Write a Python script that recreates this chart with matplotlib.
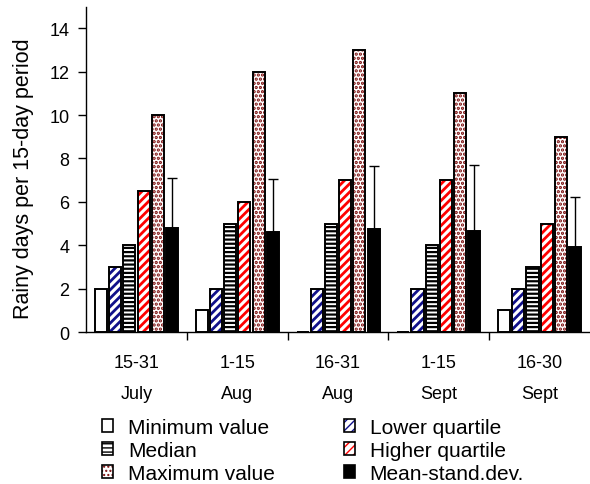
import numpy as np
import matplotlib
matplotlib.use('Agg')
import matplotlib.pyplot as plt
from matplotlib.patches import Patch
from matplotlib.legend_handler import HandlerTuple

plt.rcParams['font.family'] = ['Liberation Sans', 'DejaVu Sans']

periods = ['15-31\nJuly', '1-15\nAug', '16-31\nAug', '1-15\nSept', '16-30\nSept']
minimum = [2, 1, 0, 0, 1]
lower_q = [3, 2, 2, 2, 2]
median = [4, 5, 5, 4, 3]
higher_q = [6.5, 6, 7, 7, 5]
maximum = [10, 12, 13, 11, 9]
mean_sd = [4.8, 4.6, 4.75, 4.65, 3.9]
sd = [2.3, 2.45, 2.9, 3.05, 2.3]

# label, values, face, hatch, hatch colour, hatch width
series = [
    ('Minimum value', minimum, 'white', None, 'black', 1.0),
    ('Lower quartile', lower_q, 'white', '////', '#10108a', 2.0),
    ('Median', median, 'white', '----', 'black', 1.6),
    ('Higher quartile', higher_q, 'white', '////', '#ff0000', 2.0),
    ('Maximum value', maximum, 'white', '....', '#7a0a0a', 1.6),
    ('Mean-stand.dev.', mean_sd, 'black', None, 'black', 1.0),
]

fig = plt.figure(figsize=(5.9, 4.85), dpi=100)
ax = fig.add_axes([0.146, 0.3134, 0.854, 0.671])

x = np.arange(len(periods))
step = 0.141
width = 0.12
handles = {}
for i, (label, vals, face, hatch, hcol, hlw) in enumerate(series):
    pos = x + (i - 2.5) * step
    plt.rcParams['hatch.linewidth'] = hlw
    ax.bar(pos, vals, width, color=face, edgecolor=hcol, hatch=hatch, linewidth=0, zorder=2)
    ax.bar(pos, vals, width, fill=False, edgecolor='black', linewidth=1.4, zorder=3)
    handles[label] = (Patch(facecolor=face, edgecolor=hcol, hatch=hatch, linewidth=0),
                      Patch(fill=False, edgecolor='black', linewidth=1.2))
    if label == 'Mean-stand.dev.':
        ax.errorbar(pos, vals, yerr=[np.zeros(len(sd)), sd], fmt='none', ecolor='black',
                    elinewidth=1.0, capsize=3.5, capthick=1.0, zorder=4)

ax.set_xlim(-0.5, len(periods) - 0.5)
ax.set_ylim(0, 15)
ax.set_yticks(range(0, 15, 2))
ax.set_xticks(x)
ax.set_xticklabels(periods, linespacing=2.05, fontsize=13)
ax.tick_params(axis='x', length=0, pad=16)
ax.set_xticks(np.arange(0.5, len(periods) - 0.5, 1), minor=True)
ax.tick_params(axis='x', which='minor', length=6, direction='out', width=1)
ax.tick_params(axis='y', length=6, direction='out', labelsize=13, width=1, pad=6)
ax.set_ylabel('Rainy days per 15-day period', fontsize=15.5)
ax.yaxis.set_label_coords(-0.103, 0.475)
for s in ['top', 'right']:
    ax.spines[s].set_visible(False)
for s in ['left', 'bottom']:
    ax.spines[s].set_linewidth(1.0)

order = ['Minimum value', 'Median', 'Maximum value', 'Lower quartile', 'Higher quartile', 'Mean-stand.dev.']
fig.legend([handles[k] for k in order], order, loc='upper left', bbox_to_anchor=(0.155, 0.158),
           ncol=2, frameon=False, fontsize=15, handlelength=0.55, handleheight=0.55,
           handletextpad=0.7, labelspacing=0.2, columnspacing=3.3, borderpad=0,
           handler_map={tuple: HandlerTuple(ndivide=1)})

fig.savefig('out.png', dpi=100)
